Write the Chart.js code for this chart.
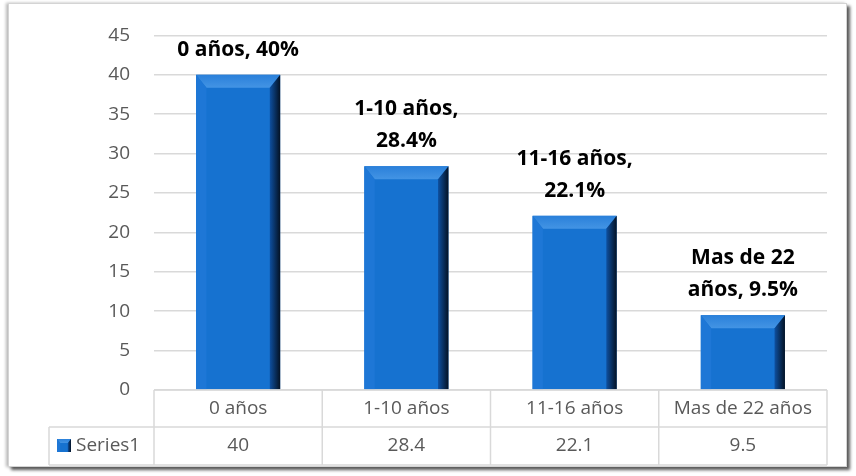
<!DOCTYPE html>
<html>
<head>
<meta charset="utf-8">
<script src="https://cdn.jsdelivr.net/npm/chart.js@4/dist/chart.umd.min.js"></script>
<style>
    body { margin: 0; background: #ffffff; }
    #frame {
        position: absolute; left: 8px; top: 3px; width: 837px; height: 462px;
        border: 1px solid #d4d4d4; background: #ffffff;
        box-shadow: 3px 3px 3px #5a5a5a, -2px 0 3px #b8b8b8;
    }
    #wrap { position: absolute; left: 0; top: 0; width: 856px; height: 476px; }
</style>
</head>
<body>
<div id="frame"></div>
<div id="wrap"><canvas id="chart" width="856" height="476"></canvas></div>
<script>
const categories = ["0 años", "1-10 años", "11-16 años", "Mas de 22 años"];
const values = [40, 28.4, 22.1, 9.5];
const seriesName = "Series1";
// labels shown above the bars (already split in lines)
const barLabels = [
    ["0 años, 40%"],
    ["1-10 años,", "28.4%"],
    ["11-16 años,", "22.1%"],
    ["Mas de 22", "años, 9.5%"]
];
const tableValues = ["40", "28.4", "22.1", "9.5"];

const FONT = "'Open Sans', Lato, sans-serif";
const TEXT_GRAY = "#595959";
const LINE_GRAY = "#d9d9d9";

// draws a bar with bevelled edges (no bevel at the bottom, it sits on the axis)
function bevelRect(ctx, x0, y0, x1, y1, b) {
    const w = x1 - x0, h = y1 - y0;
    const bt = Math.min(b, h / 2), bs = Math.min(b * 0.8, w / 2);
    ctx.fillStyle = "#1672d0";
    ctx.fillRect(x0, y0, w, h);
    // top bevel
    const gt = ctx.createLinearGradient(0, y0, 0, y0 + bt);
    gt.addColorStop(0, "#2a80da");
    gt.addColorStop(1, "#4394e4");
    ctx.fillStyle = gt;
    ctx.beginPath();
    ctx.moveTo(x0, y0); ctx.lineTo(x1, y0); ctx.lineTo(x1 - bs, y0 + bt); ctx.lineTo(x0 + bs, y0 + bt);
    ctx.closePath(); ctx.fill();
    // left bevel
    ctx.fillStyle = "#1e77d6";
    ctx.beginPath();
    ctx.moveTo(x0, y0); ctx.lineTo(x0 + bs, y0 + bt); ctx.lineTo(x0 + bs, y1); ctx.lineTo(x0, y1);
    ctx.closePath(); ctx.fill();
    // right bevel
    const g = ctx.createLinearGradient(x1 - bs, 0, x1, 0);
    g.addColorStop(0, "#0e50a0");
    g.addColorStop(1, "#041224");
    ctx.fillStyle = g;
    ctx.beginPath();
    ctx.moveTo(x1, y0); ctx.lineTo(x1, y1); ctx.lineTo(x1 - bs, y1); ctx.lineTo(x1 - bs, y0 + bt);
    ctx.closePath(); ctx.fill();
}

const bevelAndLabels = {
    id: "bevelAndLabels",
    afterDatasetsDraw(chart) {
        const ctx = chart.ctx;
        const meta = chart.getDatasetMeta(0);
        ctx.save();
        meta.data.forEach((bar, i) => {
            const x0 = bar.x - bar.width / 2, x1 = bar.x + bar.width / 2;
            bevelRect(ctx, x0, bar.y, x1, bar.base, 13);

            const lines = barLabels[i];
            ctx.fillStyle = "#000000";
            ctx.font = "bold 21px " + FONT;
            ctx.textAlign = "center";
            ctx.textBaseline = "alphabetic";
            const lh = 32;
            lines.forEach((t, k) => {
                const y = bar.y - 19 - (lines.length - 1 - k) * lh;
                ctx.fillText(t, bar.x, y);
            });
        });
        ctx.restore();
    },
    afterDraw(chart) {
        // data table under the plot
        const ctx = chart.ctx;
        const area = chart.chartArea;
        const xs = chart.scales.x;
        const top = area.bottom, mid = top + 37, bot = mid + 38;
        const left = 49;
        const step = (area.right - area.left) / categories.length;
        ctx.save();
        ctx.strokeStyle = LINE_GRAY;
        ctx.lineWidth = 1.5;
        ctx.beginPath();
        ctx.moveTo(area.left, top); ctx.lineTo(area.right, top);
        ctx.moveTo(left, mid); ctx.lineTo(area.right, mid);
        ctx.moveTo(left, bot); ctx.lineTo(area.right, bot);
        ctx.moveTo(left, mid); ctx.lineTo(left, bot);
        for (let i = 0; i <= categories.length; i++) {
            const x = area.left + i * step;
            ctx.moveTo(x, top); ctx.lineTo(x, bot);
        }
        ctx.stroke();

        // legend key
        bevelRect(ctx, 57, 439, 71, 452, 4);

        ctx.fillStyle = TEXT_GRAY;
        ctx.font = "19px " + FONT;
        ctx.textAlign = "center";
        ctx.textBaseline = "middle";
        categories.forEach((c, i) => {
            const x = xs.getPixelForValue(i);
            ctx.fillText(c, x, (top + mid) / 2);
            ctx.fillText(tableValues[i], x, (mid + bot) / 2);
        });
        ctx.textAlign = "left";
        ctx.fillText(seriesName, 76, (mid + bot) / 2);
        ctx.restore();
    }
};

new Chart(document.getElementById("chart"), {
    type: "bar",
    data: {
        labels: categories,
        datasets: [{
            label: seriesName,
            data: values,
            backgroundColor: "rgba(0,0,0,0)",
            barPercentage: 0.5,
            categoryPercentage: 1.0
        }]
    },
    options: {
        responsive: false,
        animation: false,
        layout: { padding: { left: 0, top: 33, right: 29, bottom: 86 } },
        plugins: { legend: { display: false }, tooltip: { enabled: false } },
        scales: {
            x: { display: false },
            y: {
                min: 0, max: 45,
                ticks: { stepSize: 5, color: TEXT_GRAY, padding: 24, font: { family: FONT, size: 19 } },
                grid: { color: LINE_GRAY, lineWidth: 1.5, drawTicks: false },
                border: { display: false },
                afterFit(scale) { scale.width = 154; }
            }
        }
    },
    plugins: [bevelAndLabels]
});
</script>
</body>
</html>
